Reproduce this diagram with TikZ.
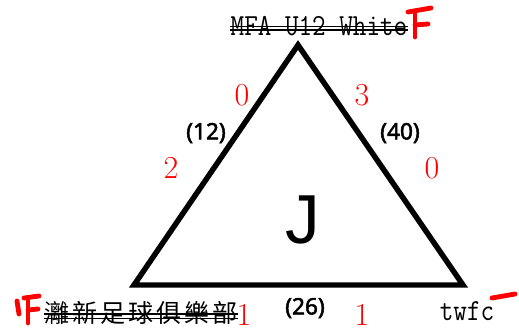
\documentclass[tikz,border=0pt]{standalone}
\usepackage{fontspec}
\usepackage{tikz}

\newfontfamily\teamfont[FakeStretch=0.86]{Latin Modern Mono}
\newfontfamily\cjkfont[LetterSpace=12]{Noto Sans CJK TC}
\newfontfamily\goalfont[FakeBold=2.2]{Noto Sans}
\newfontfamily\bigfont{Liberation Sans}

\tikzset{
    strike/.style={draw=black,line width=1.1pt},
    tally/.style={draw=red,line width=3.6pt,line cap=round}
}

\begin{document}
\begin{tikzpicture}[x=0.75pt,y=-0.75pt]
        \useasboundingbox (0,0) rectangle (519,336);

        % triangle
        \coordinate (A) at (298,45);
        \coordinate (B) at (134,285);
        \coordinate (C) at (463,285);
        \draw [line width=4.1pt,miter limit=10] (A) -- (B) -- (C) -- cycle;

        \begin{scope}[every node/.style={inner sep=0pt,anchor=base,
                      font=\teamfont\fontsize{23}{23}\selectfont}]
            \node (T) at (319,35) {MFA U12 White};
            \node (R) at (467,320) {twfc};
            \node (L) [anchor=base west,font=\cjkfont\fontsize{18.75}{19}\selectfont] at (44,322) {灕新足球俱樂部};
        \end{scope}

        \draw [strike] ([yshift=6.4pt]T.base west) -- ([yshift=6.4pt]T.base east);
        \draw [strike] ([yshift=3.6pt]T.base west) -- ([yshift=3.6pt]T.base east);
        \draw [strike] ([yshift=6pt]L.base west) -- ([yshift=6pt]L.base east);
        \draw [strike] ([yshift=2.8pt]L.base west) -- ([yshift=2.8pt]L.base east);

        \begin{scope}[every node/.style={inner sep=0pt,anchor=base,red,
                      font=\fontsize{24}{24}\selectfont}]
            \node (P) at (242,105) {0};
            \node (Q) at (362,105) {3};
            \node (U) at (171,178) {2};
            \node (V) at (432,178) {0};
            \node (X) at (244,325) {1};
            \node (Y) at (362,325) {1};
        \end{scope}

        \begin{scope}[every node/.style={inner sep=0pt,
                      font=\goalfont\fontsize{17}{17}\selectfont}]
            \node (G) at (206,133) {(12)};
            \node (H) at (400,133) {(40)};
            \node (K) at (305,308) {(26)};
        \end{scope}

        \node (J) [inner sep=0pt,anchor=base,font=\bigfont\fontsize{52}{52}\selectfont] at (303,243) {J};

        % tally marks
        \begin{scope}[every path/.style={tally}]
            \draw (408,12) -- (431,8);
            \draw (415,11) -- (415,37);
            \draw (415,25) -- (428,24);
            \draw (17,301) -- (19,314);
            \draw (24,298) -- (39,296);
            \draw (28,298) -- (28,323);
            \draw (28,310) -- (38,309);
            \draw (492,298) -- (515,294);
        \end{scope}
    \end{tikzpicture}
\end{document}
